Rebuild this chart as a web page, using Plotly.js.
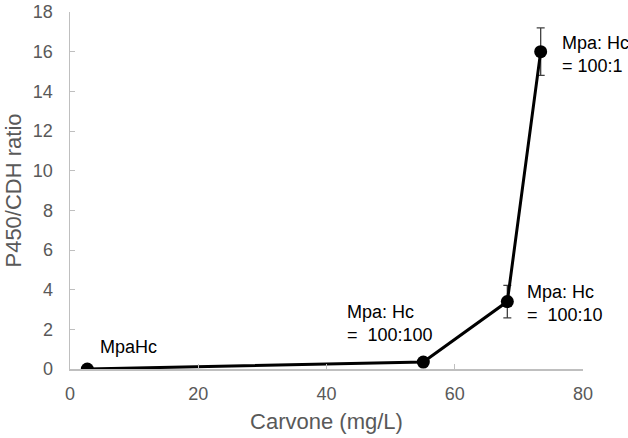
<!DOCTYPE html>
<html>
<head>
<meta charset="utf-8">
<script src="https://cdn.plot.ly/plotly-3.0.1.min.js"></script>
<style>html,body{margin:0;padding:0;background:#fff;}#chart{width:628px;height:438px;}</style>
</head>
<body>
<div id="chart"></div>
<script>
const carvone = [2.7, 55.1, 68.2, 73.4];
const ratio = [0, 0.35, 3.4, 16.0];
const errors = [0, 0, 0.82, 1.2];
const xTicks = [0, 20, 40, 60, 80];
const yTicks = [0, 2, 4, 6, 8, 10, 12, 14, 16, 18];
const labels = ["MpaHc", "Mpa: Hc<br>=  100:100", "Mpa: Hc<br>=  100:10", "Mpa: Hc<br>= 100:1"];

const trace = {
  x: carvone, y: ratio, type: 'scatter', mode: 'lines+markers',
  line: {color: '#000', width: 3},
  marker: {color: '#000', size: 13},
  error_y: {type: 'data', array: errors, visible: true, color: '#404040', thickness: 1.3, width: 4},
  showlegend: false
};

const FAM = 'Liberation Sans, Arial, sans-serif';
const tickFont = {family: FAM, size: 18, color: '#595959'};
const titleFont = {family: FAM, size: 22, color: '#595959'};
const annFont = {family: FAM, size: 18, color: '#000'};

const layout = {
  width: 628, height: 438,
  margin: {l: 70, r: 45, t: 12, b: 69},
  paper_bgcolor: '#fff', plot_bgcolor: '#fff',
  xaxis: {
    range: [0, 80], tickvals: xTicks, ticktext: xTicks.map(String),
    showgrid: false, zeroline: false, showline: true, linecolor: '#bfbfbf', linewidth: 1.5,
    ticks: 'inside', ticklen: 5, tickcolor: '#bfbfbf', tickfont: tickFont, ticklabelstandoff: 8,
    title: {text: 'Carvone (mg/L)', font: titleFont, standoff: 10}
  },
  yaxis: {
    range: [0, 18], tickvals: yTicks, ticktext: yTicks.map(String),
    showgrid: false, zeroline: false, showline: true, linecolor: '#bfbfbf', linewidth: 1.5,
    ticks: 'inside', ticklen: 5, tickcolor: '#bfbfbf', tickfont: tickFont, ticklabelstandoff: 12,
    title: {text: 'P450/CDH ratio', font: titleFont, standoff: 5}
  },
  annotations: [
    {x: 4.3, y: 1.1, text: labels[0], xanchor: 'left', yanchor: 'middle', showarrow: false, align: 'left', font: annFont},
    {x: 42.9, y: 2.27, text: labels[1], xanchor: 'left', yanchor: 'middle', showarrow: false, align: 'left', font: annFont},
    {x: 70.95, y: 3.28, text: labels[2], xanchor: 'left', yanchor: 'middle', showarrow: false, align: 'left', font: annFont},
    {x: 76.4, y: 15.88, text: labels[3], xanchor: 'left', yanchor: 'middle', showarrow: false, align: 'left', font: annFont}
  ]
};

Plotly.newPlot('chart', [trace], layout, {displayModeBar: false, staticPlot: true});
</script>
</body>
</html>
